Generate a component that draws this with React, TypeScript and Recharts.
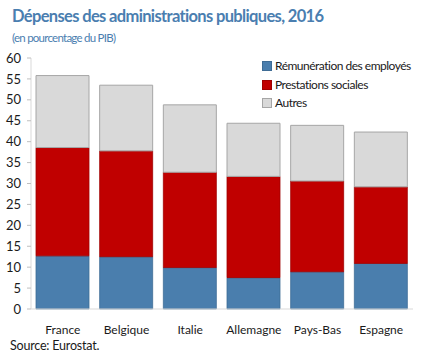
import React from "react";
import { BarChart, Bar, XAxis, YAxis } from "recharts";

const categories = ["France", "Belgique", "Italie", "Allemagne", "Pays-Bas", "Espagne"];
const remuneration = [12.7, 12.5, 9.9, 7.5, 8.9, 10.9];
const prestations = [25.9, 25.3, 22.8, 24.2, 21.7, 18.3];
const autres = [17.2, 15.7, 16.1, 12.7, 13.3, 13.1];
const yTicks = [0, 5, 10, 15, 20, 25, 30, 35, 40, 45, 50, 55, 60];

const seriesNames = ["Rémunération des employés", "Prestations sociales", "Autres"];
const colors = ["#4A7EAD", "#C00000", "#D9D9D9"];
const strokes = ["#3E6C95", "#A00000", "#A6A6A6"];

const data = categories.map((c, i) => ({
  name: c,
  rem: remuneration[i],
  pre: prestations[i],
  aut: autres[i],
}));

const FONT = "Lato, 'Open Sans', sans-serif";

const LegendBox = () => (
  <div style={{ position: "absolute", left: 262, top: 57, fontFamily: FONT, fontSize: 12, letterSpacing: -0.5, color: "#1a1a1a", lineHeight: "18.5px" }}>
    {seriesNames.map((n, i) => (
      <div key={n} style={{ display: "flex", alignItems: "center", whiteSpace: "nowrap" }}>
        <span
          style={{
            display: "inline-block",
            flexShrink: 0,
            width: 8,
            height: 8,
            background: colors[i],
            border: `1px solid ${strokes[i]}`,
            marginRight: 3,
          }}
        />
        {n}
      </div>
    ))}
  </div>
);

export default function App() {
  return (
    <div style={{ position: "absolute", top: 0, left: 0, width: 432, height: 362, background: "#fff", fontFamily: FONT }}>
      <BarChart
        width={432}
        height={362}
        data={data}
        margin={{ top: 58, right: 19, bottom: 23, left: 0 }}
        style={{ position: "absolute", top: 0, left: 0 }}
      >
        <XAxis
          dataKey="name"
          xAxisId={0}
          height={30}
          tickLine={false}
          axisLine={{ stroke: "#D9D9D9" }}
          tick={{ fill: "#1a1a1a", fontSize: 12, fontFamily: FONT }}
          tickMargin={10}
          interval={0}
        />
        <XAxis
          dataKey="name"
          xAxisId="top"
          orientation="top"
          height={0}
          tick={false}
          tickLine={false}
          axisLine={{ stroke: "#D9D9D9" }}
        />
        <YAxis
          yAxisId={0}
          width={31}
          domain={[0, 60]}
          ticks={yTicks}
          interval={0}
          tickSize={4}
          tickMargin={6}
          tickLine={{ stroke: "#BFBFBF" }}
          axisLine={{ stroke: "#D9D9D9" }}
          tick={{ fill: "#1a1a1a", fontSize: 13, fontFamily: FONT }}
        />
        <YAxis
          yAxisId="right"
          orientation="right"
          width={0}
          domain={[0, 60]}
          tick={false}
          tickLine={false}
          axisLine={{ stroke: "#D9D9D9" }}
        />
        <Bar dataKey="rem" name={seriesNames[0]} stackId="a" fill={colors[0]} stroke={strokes[0]} strokeWidth={0.8} barSize={53} isAnimationActive={false} />
        <Bar dataKey="pre" name={seriesNames[1]} stackId="a" fill={colors[1]} stroke={strokes[1]} strokeWidth={0.8} barSize={53} isAnimationActive={false} />
        <Bar dataKey="aut" name={seriesNames[2]} stackId="a" fill={colors[2]} stroke={strokes[2]} strokeWidth={1} barSize={53} isAnimationActive={false} />
      </BarChart>
      <div style={{ position: "absolute", left: 12, top: 6, fontSize: 16.5, letterSpacing: -0.65, fontWeight: 700, color: "#4A7EB0", whiteSpace: "nowrap" }}>
        Dépenses des administrations publiques, 2016
      </div>
      <div style={{ position: "absolute", left: 12, top: 31, fontSize: 11.5, letterSpacing: -0.75, color: "#4A7EB0", whiteSpace: "nowrap" }}>
        (en pourcentage du PIB)
      </div>
      <LegendBox />
      <div style={{ position: "absolute", left: 10, top: 338, fontSize: 12.5, letterSpacing: -0.2, color: "#1a1a1a", whiteSpace: "nowrap" }}>
        Source: Eurostat.
      </div>
    </div>
  );
}
